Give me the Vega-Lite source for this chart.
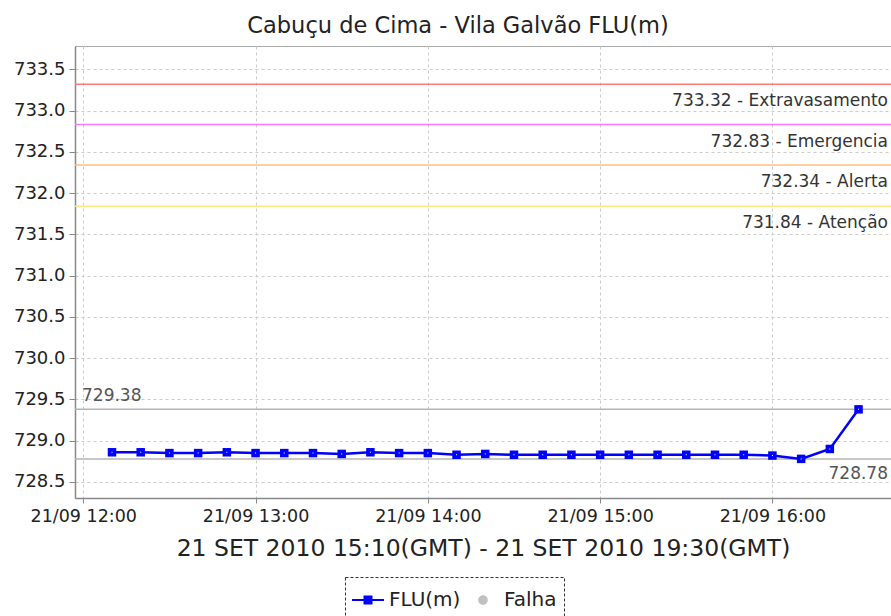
{
  "$schema": "https://vega.github.io/schema/vega-lite/v6.json",
  "autosize": "none",
  "width": 816,
  "height": 452,
  "padding": {"left": 75, "top": 46, "right": 0, "bottom": 118},
  "background": "white",
  "config": {
    "font": "DejaVu Sans",
    "view": {"stroke": "#aaaaaa", "strokeWidth": 1},
    "legend": {"strokeDash": [3, 2], "strokeWidth": 1},
    "axis": {
      "gridColor": "#cccccc",
      "gridDash": [3, 3],
      "gridWidth": 1,
      "domainColor": "#888888",
      "domainWidth": 1.5,
      "tickColor": "#888888",
      "labelColor": "#222222",
      "labelFont": "DejaVu Sans",
      "titleFont": "DejaVu Sans",
      "titleColor": "#222222",
      "titleFontWeight": "normal"
    }
  },
  "title": {
    "text": "Cabuçu de Cima - Vila Galvão FLU(m)",
    "font": "DejaVu Sans",
    "fontSize": 22.5,
    "fontWeight": "normal",
    "color": "#222222",
    "anchor": "middle",
    "dx": -25,
    "offset": 9
  },
  "datasets": {
    "serie": [
      {"hora": "2010-09-21T12:10:00Z", "nivel": 728.86, "serie": "FLU(m)"},
      {"hora": "2010-09-21T12:20:00Z", "nivel": 728.86, "serie": "FLU(m)"},
      {"hora": "2010-09-21T12:30:00Z", "nivel": 728.85, "serie": "FLU(m)"},
      {"hora": "2010-09-21T12:40:00Z", "nivel": 728.85, "serie": "FLU(m)"},
      {"hora": "2010-09-21T12:50:00Z", "nivel": 728.86, "serie": "FLU(m)"},
      {"hora": "2010-09-21T13:00:00Z", "nivel": 728.85, "serie": "FLU(m)"},
      {"hora": "2010-09-21T13:10:00Z", "nivel": 728.85, "serie": "FLU(m)"},
      {"hora": "2010-09-21T13:20:00Z", "nivel": 728.85, "serie": "FLU(m)"},
      {"hora": "2010-09-21T13:30:00Z", "nivel": 728.84, "serie": "FLU(m)"},
      {"hora": "2010-09-21T13:40:00Z", "nivel": 728.86, "serie": "FLU(m)"},
      {"hora": "2010-09-21T13:50:00Z", "nivel": 728.85, "serie": "FLU(m)"},
      {"hora": "2010-09-21T14:00:00Z", "nivel": 728.85, "serie": "FLU(m)"},
      {"hora": "2010-09-21T14:10:00Z", "nivel": 728.83, "serie": "FLU(m)"},
      {"hora": "2010-09-21T14:20:00Z", "nivel": 728.84, "serie": "FLU(m)"},
      {"hora": "2010-09-21T14:30:00Z", "nivel": 728.83, "serie": "FLU(m)"},
      {"hora": "2010-09-21T14:40:00Z", "nivel": 728.83, "serie": "FLU(m)"},
      {"hora": "2010-09-21T14:50:00Z", "nivel": 728.83, "serie": "FLU(m)"},
      {"hora": "2010-09-21T15:00:00Z", "nivel": 728.83, "serie": "FLU(m)"},
      {"hora": "2010-09-21T15:10:00Z", "nivel": 728.83, "serie": "FLU(m)"},
      {"hora": "2010-09-21T15:20:00Z", "nivel": 728.83, "serie": "FLU(m)"},
      {"hora": "2010-09-21T15:30:00Z", "nivel": 728.83, "serie": "FLU(m)"},
      {"hora": "2010-09-21T15:40:00Z", "nivel": 728.83, "serie": "FLU(m)"},
      {"hora": "2010-09-21T15:50:00Z", "nivel": 728.83, "serie": "FLU(m)"},
      {"hora": "2010-09-21T16:00:00Z", "nivel": 728.82, "serie": "FLU(m)"},
      {"hora": "2010-09-21T16:10:00Z", "nivel": 728.78, "serie": "FLU(m)"},
      {"hora": "2010-09-21T16:20:00Z", "nivel": 728.90, "serie": "FLU(m)"},
      {"hora": "2010-09-21T16:30:00Z", "nivel": 729.38, "serie": "FLU(m)"}
    ],
    "limites": [
      {"valor": 733.32, "nome": "Extravasamento", "rotulo": "733.32 - Extravasamento"},
      {"valor": 732.83, "nome": "Emergencia", "rotulo": "732.83 - Emergencia"},
      {"valor": 732.34, "nome": "Alerta", "rotulo": "732.34 - Alerta"},
      {"valor": 731.84, "nome": "Atenção", "rotulo": "731.84 - Atenção"}
    ],
    "extremos": [
      {"valor": 729.38, "tipo": "max", "rotulo": "729.38"},
      {"valor": 728.78, "tipo": "min", "rotulo": "728.78"}
    ]
  },
  "layer": [
    {
      "data": {"name": "limites"},
      "mark": {"type": "rule", "strokeWidth": 1.5},
      "encoding": {
        "y": {
          "field": "valor",
          "type": "quantitative",
          "scale": {"domain": [728.306, 733.782], "nice": false, "zero": false},
          "axis": {
            "title": null,
            "values": [728.5, 729, 729.5, 730, 730.5, 731, 731.5, 732, 732.5, 733, 733.5],
            "format": ".1f",
            "labelFontSize": 18,
            "labelPadding": 4,
            "tickSize": 6
          }
        },
        "color": {
          "field": "nome",
          "type": "nominal",
          "scale": {
            "domain": ["Extravasamento", "Emergencia", "Alerta", "Atenção"],
            "range": ["#ff7878", "#ff78ff", "#ffbe82", "#ffe682"]
          },
          "legend": null
        }
      }
    },
    {
      "data": {"name": "extremos"},
      "mark": {"type": "rule", "strokeWidth": 1.5, "color": "#b4b4b4"},
      "encoding": {
        "y": {"field": "valor", "type": "quantitative"}
      }
    },
    {
      "data": {"name": "serie"},
      "mark": {"type": "line", "color": "#0000ff", "strokeWidth": 2.5},
      "encoding": {
        "x": {
          "field": "hora",
          "type": "temporal",
          "scale": {
            "type": "utc",
            "domain": [1285070227000, 1285087278000],
            "nice": false
          },
          "axis": {
            "title": "21 SET 2010 15:10(GMT) - 21 SET 2010 19:30(GMT)",
            "titleFontSize": 23.5,
            "titlePadding": 12,
            "format": "%d/%m %H:%M",
            "values": [1285070400000, 1285074000000, 1285077600000, 1285081200000, 1285084800000],
            "labelFontSize": 17.5,
            "labelPadding": 4,
            "tickSize": 5,
            "labelFlush": false,
            "labelOverlap": false
          }
        },
        "y": {"field": "nivel", "type": "quantitative"}
      }
    },
    {
      "data": {"name": "serie"},
      "mark": {"type": "point", "filled": true, "shape": "square", "size": 72, "color": "#0000ff", "opacity": 1},
      "encoding": {
        "x": {"field": "hora", "type": "temporal"},
        "y": {"field": "nivel", "type": "quantitative"}
      }
    },
    {
      "data": {"name": "serie"},
      "mark": {"type": "point", "filled": true, "shape": "square", "size": 1, "color": "#ffffff", "opacity": 1},
      "encoding": {
        "x": {"field": "hora", "type": "temporal"},
        "y": {"field": "nivel", "type": "quantitative"}
      }
    },
    {
      "data": {"name": "serie"},
      "transform": [{"filter": "datum.serie === 'Falha'"}],
      "mark": {"type": "point", "filled": true, "opacity": 1},
      "encoding": {
        "x": {"field": "hora", "type": "temporal"},
        "y": {"field": "nivel", "type": "quantitative"},
        "fill": {
          "field": "serie",
          "type": "nominal",
          "scale": {"domain": ["FLU(m)", "Falha"], "range": ["#0000ff", "#c0c0c0"]},
          "legend": {
            "title": null,
            "orient": "none",
            "legendX": 270,
            "legendY": 531,
            "direction": "horizontal",
            "symbolSize": 1024,
            "symbolOpacity": 1,
            "symbolStrokeWidth": 0,
            "labelFontSize": 20,
            "labelFont": "DejaVu Sans",
            "labelColor": "#222222",
            "labelOffset": 5,
            "columnPadding": 6,
            "padding": 7,
            "strokeColor": "#333333"
          }
        },
        "shape": {
          "field": "serie",
          "type": "nominal",
          "scale": {
            "domain": ["FLU(m)", "Falha"],
            "range": [
              "M-1,-0.07H1V0.07H-1Z M-0.28,-0.28H0.28V0.28H-0.28Z",
              "M0.3,0A0.3,0.3 0 1,1 -0.3,0A0.3,0.3 0 1,1 0.3,0Z"
            ]
          },
          "legend": {
            "title": null,
            "orient": "none",
            "legendX": 270,
            "legendY": 531,
            "direction": "horizontal",
            "symbolSize": 1024,
            "symbolOpacity": 1,
            "symbolStrokeWidth": 0,
            "labelFontSize": 20,
            "labelFont": "DejaVu Sans",
            "labelColor": "#222222",
            "labelOffset": 5,
            "columnPadding": 6,
            "padding": 7,
            "strokeColor": "#333333"
          }
        }
      }
    },
    {
      "data": {"name": "limites"},
      "mark": {"type": "text", "align": "right", "baseline": "alphabetic", "dx": -3, "dy": 22, "fontSize": 17, "color": "#333333"},
      "encoding": {
        "x": {"datum": 1285087278000, "type": "temporal"},
        "y": {"field": "valor", "type": "quantitative"},
        "text": {"field": "rotulo"}
      }
    },
    {
      "data": {"name": "extremos"},
      "transform": [{"filter": "datum.tipo === 'max'"}],
      "mark": {"type": "text", "align": "left", "baseline": "alphabetic", "dx": 7, "dy": -8, "fontSize": 17, "color": "#555555"},
      "encoding": {
        "x": {"datum": 1285070227000, "type": "temporal"},
        "y": {"field": "valor", "type": "quantitative"},
        "text": {"field": "rotulo"}
      }
    },
    {
      "data": {"name": "extremos"},
      "transform": [{"filter": "datum.tipo === 'min'"}],
      "mark": {"type": "text", "align": "right", "baseline": "alphabetic", "dx": -3, "dy": 20, "fontSize": 17, "color": "#555555"},
      "encoding": {
        "x": {"datum": 1285087278000, "type": "temporal"},
        "y": {"field": "valor", "type": "quantitative"},
        "text": {"field": "rotulo"}
      }
    }
  ]
}
